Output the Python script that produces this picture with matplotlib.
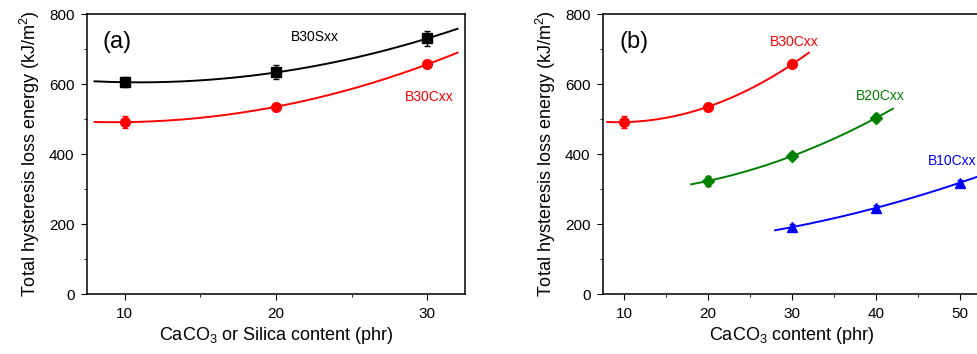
import numpy as np
import matplotlib.pyplot as plt
from matplotlib.ticker import MultipleLocator

plt.rcParams["font.family"] = ["Liberation Sans", "DejaVu Sans"]
plt.rcParams["mathtext.fontset"] = "custom"
plt.rcParams["mathtext.rm"] = "Liberation Sans"

# panel (a)
content_a = [10, 20, 30]
b30s = [605, 633, 730]
b30s_err = [15, 20, 22]
b30c = [491, 535, 656]
b30c_err = [18, 5, 5]

# panel (b)
content_b30 = [10, 20, 30]
content_b20 = [20, 30, 40]
content_b10 = [30, 40, 50]
b20c = [323, 394, 503]
b20c_err = [15, 8, 10]
b10c = [191, 246, 318]
b10c_err = [8, 8, 8]


def fit_curve(ax, x, y, x0, x1, color):
    coef = np.polyfit(x, y, 2)
    xs = np.linspace(x0, x1, 200)
    ax.plot(xs, np.polyval(coef, xs), color=color, lw=1.4, zorder=2)


def series(ax, x, y, err, color, marker, ms=7):
    ax.errorbar(x, y, yerr=err, fmt=marker, color=color, ms=ms,
                capsize=2.5, elinewidth=1, capthick=1, zorder=3)


def style(ax):
    ax.set_ylim(0, 800)
    ax.yaxis.set_major_locator(MultipleLocator(200))
    ax.yaxis.set_minor_locator(MultipleLocator(100))
    ax.xaxis.set_major_locator(MultipleLocator(10))
    ax.xaxis.set_minor_locator(MultipleLocator(5))
    ax.tick_params(which="both", direction="out", labelsize=11,
                   top=False, right=False)
    ax.tick_params(which="major", length=4, pad=5)
    ax.tick_params(which="minor", length=2.5)
    ax.set_ylabel("Total hysteresis loss energy (kJ/m$^2$)", fontsize=13)
    for s in ax.spines.values():
        s.set_linewidth(1.1)


fig = plt.figure(figsize=(9.78, 3.54), dpi=100)
W, H = 978, 354

ax1 = fig.add_axes([87 / W, 1 - 294 / H, 378 / W, 280 / H])
fit_curve(ax1, content_a, b30s, 8, 32, "black")
fit_curve(ax1, content_a, b30c, 8, 32, "red")
series(ax1, content_a, b30s, b30s_err, "black", "s", 6.5)
series(ax1, content_a, b30c, b30c_err, "red", "o")
ax1.set_xlim(7.5, 32.5)
style(ax1)
ax1.set_xlabel("CaCO$_3$ or Silica content (phr)", fontsize=13)
ax1.xaxis.set_label_coords(0.5, -0.15)
ax1.xaxis.label.set_va("center")
ax1.yaxis.set_label_coords(-0.12, 0.5)
ax1.text(0.04, 0.90, "(a)", transform=ax1.transAxes, fontsize=17, va="center")
ax1.text(21, 735, "B30Sxx", color="black", fontsize=10, va="center")
ax1.text(28.5, 563, "B30Cxx", color="red", fontsize=10, va="center")

ax2 = fig.add_axes([603 / W, 1 - 294 / H, 420 / W, 280 / H])
fit_curve(ax2, content_b30, b30c, 8, 32, "red")
fit_curve(ax2, content_b20, b20c, 18, 42, "green")
fit_curve(ax2, content_b10, b10c, 28, 52.5, "blue")
series(ax2, content_b30, b30c, b30c_err, "red", "o")
series(ax2, content_b20, b20c, b20c_err, "green", "D", 6)
series(ax2, content_b10, b10c, b10c_err, "blue", "^", 7)
ax2.set_xlim(7.5, 57.5)
style(ax2)
ax2.set_xlabel("CaCO$_3$ content (phr)", fontsize=13)
ax2.xaxis.set_label_coords((792 - 603) / 420, -0.15)
ax2.xaxis.label.set_va("center")
ax2.yaxis.set_label_coords(-0.108, 0.5)
ax2.text(0.04, 0.90, "(b)", transform=ax2.transAxes, fontsize=17, va="center")
ax2.text(27.4, 720, "B30Cxx", color="red", fontsize=10, va="center")
ax2.text(37.6, 567, "B20Cxx", color="green", fontsize=10, va="center")
ax2.text(46.2, 380, "B10Cxx", color="blue", fontsize=10, va="center")

fig.savefig("out.png", dpi=100)
